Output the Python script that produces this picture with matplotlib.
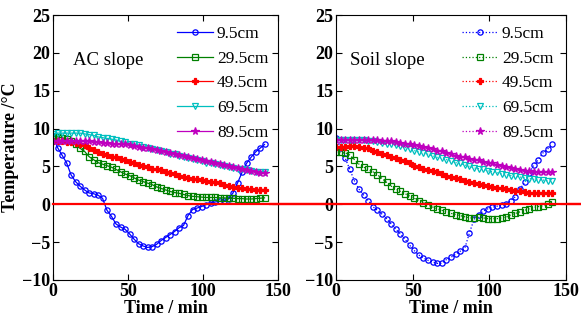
import numpy as np
import matplotlib
matplotlib.use("Agg")
import matplotlib.pyplot as plt

plt.rcParams["font.family"] = ["Liberation Serif", "DejaVu Serif"]

# sampling times (min)
time = np.arange(0, 142, 3)

depths = ["9.5cm", "29.5cm", "49.5cm", "69.5cm", "89.5cm"]

# AC slope temperatures (degC)
ac_95 = [9.0, 7.5, 6.5, 5.5, 3.9, 3.0, 2.4, 1.9, 1.5, 1.4,
         1.2, 0.8, -0.8, -1.6, -2.6, -3.0, -3.3, -3.9, -4.6, -5.2,
         -5.5, -5.7, -5.6, -5.3, -4.8, -4.4, -4.0, -3.6, -3.1, -2.8,
         -1.5, -0.7, -0.5, -0.3, -0.05, 0.2, 0.3, 0.4, 0.45, 0.7,
         1.5, 2.8, 4.2, 5.4, 6.2, 6.9, 7.4, 7.9]
ac_295 = [9.0, 8.9, 8.8, 8.6, 8.3, 7.9, 7.4, 7.0, 6.3, 5.9,
          5.5, 5.3, 5.1, 4.9, 4.6, 4.3, 4.0, 3.8, 3.5, 3.2,
          3.0, 2.8, 2.6, 2.3, 2.1, 1.9, 1.7, 1.55, 1.45, 1.3,
          1.15, 1.05, 1.0, 0.95, 0.9, 0.9, 0.9, 0.85, 0.85, 0.8,
          0.8, 0.75, 0.75, 0.7, 0.7, 0.75, 0.8, 0.85]
ac_495 = [8.3, 8.3, 8.3, 8.2, 8.2, 8.1, 8.0, 7.8, 7.5, 7.2,
          6.9, 6.7, 6.5, 6.3, 6.2, 6.0, 5.8, 5.6, 5.4, 5.2,
          5.0, 4.9, 4.7, 4.6, 4.5, 4.3, 4.1, 4.0, 3.8, 3.6,
          3.5, 3.4, 3.3, 3.2, 3.1, 3.0, 2.9, 2.8, 2.6, 2.4,
          2.3, 2.2, 2.1, 2.0, 2.0, 1.95, 1.95, 1.95]
ac_695 = [9.3, 9.4, 9.4, 9.4, 9.4, 9.4, 9.4, 9.3, 9.2, 9.1,
          8.9, 8.8, 8.7, 8.6, 8.5, 8.3, 8.2, 8.0, 7.9, 7.8,
          7.6, 7.5, 7.3, 7.2, 7.0, 6.9, 6.7, 6.6, 6.4, 6.3,
          6.1, 6.0, 5.8, 5.7, 5.5, 5.4, 5.3, 5.2, 5.0, 4.9,
          4.8, 4.7, 4.6, 4.5, 4.4, 4.3, 4.3, 4.3]
ac_895 = [8.4, 8.4, 8.4, 8.4, 8.4, 8.4, 8.4, 8.3, 8.3, 8.2,
          8.2, 8.1, 8.1, 8.0, 8.0, 7.9, 7.9, 7.8, 7.7, 7.6,
          7.5, 7.4, 7.3, 7.2, 7.1, 6.9, 6.8, 6.7, 6.5, 6.4,
          6.2, 6.1, 6.0, 5.8, 5.7, 5.6, 5.4, 5.3, 5.2, 5.0,
          4.9, 4.8, 4.7, 4.5, 4.4, 4.3, 4.1, 4.1]

# Soil slope temperatures (degC)
soil_95 = [8.8, 7.4, 6.1, 4.6, 3.1, 2.0, 1.2, 0.5, -0.3, -0.8,
           -1.3, -1.9, -2.6, -3.3, -3.9, -4.6, -5.4, -6.1, -6.7, -7.1,
           -7.4, -7.6, -7.8, -7.8, -7.3, -7.0, -6.6, -6.2, -5.8, -3.8,
           -2.0, -1.4, -0.9, -0.6, -0.4, -0.25, -0.1, 0.1, 0.5, 1.0,
           2.0, 2.9, 4.1, 5.2, 5.9, 6.8, 7.3, 7.9]
soil_295 = [6.9, 6.9, 6.8, 6.5, 5.9, 5.3, 4.9, 4.6, 4.3, 3.9,
            3.4, 2.9, 2.4, 2.0, 1.7, 1.4, 1.1, 0.8, 0.5, 0.2,
            -0.1, -0.35, -0.6, -0.8, -1.0, -1.2, -1.35, -1.5, -1.65, -1.8,
            -1.8, -1.7, -1.8, -1.9, -1.9, -1.9, -1.8, -1.7, -1.4, -1.2,
            -1.0, -0.8, -0.6, -0.4, -0.3, -0.2, 0.1, 0.3]
soil_495 = [7.6, 7.6, 7.6, 7.7, 7.7, 7.6, 7.5, 7.4, 7.1, 6.9,
            6.7, 6.5, 6.3, 6.1, 5.9, 5.7, 5.4, 5.1, 4.9, 4.7,
            4.5, 4.4, 4.2, 4.0, 3.8, 3.6, 3.5, 3.3, 3.1, 3.0,
            2.8, 2.7, 2.5, 2.4, 2.3, 2.2, 2.1, 2.0, 1.9, 1.8,
            1.7, 1.6, 1.55, 1.5, 1.5, 1.5, 1.5, 1.5]
soil_695 = [8.5, 8.5, 8.5, 8.5, 8.5, 8.5, 8.5, 8.4, 8.3, 8.2,
            8.1, 8.0, 7.9, 7.8, 7.7, 7.5, 7.3, 7.1, 6.9, 6.8,
            6.6, 6.4, 6.2, 6.1, 5.9, 5.7, 5.5, 5.4, 5.2, 5.0,
            4.8, 4.7, 4.6, 4.4, 4.3, 4.2, 4.0, 3.9, 3.8, 3.7,
            3.6, 3.5, 3.4, 3.3, 3.2, 3.2, 3.1, 3.1]
soil_895 = [8.5, 8.5, 8.5, 8.5, 8.5, 8.5, 8.5, 8.5, 8.5, 8.5,
            8.4, 8.3, 8.3, 8.2, 8.1, 8.0, 7.9, 7.8, 7.7, 7.6,
            7.4, 7.3, 7.1, 7.0, 6.8, 6.6, 6.4, 6.3, 6.2, 6.0,
            5.9, 5.8, 5.6, 5.5, 5.4, 5.2, 5.0, 4.9, 4.8, 4.7,
            4.5, 4.4, 4.4, 4.3, 4.3, 4.2, 4.2, 4.2]

colors = ["#0000ff", "#008000", "#ff0000", "#00bfbf", "#bf00bf"]
markers = ["o", "s", "P", "v", "*"]
filled = [False, False, True, False, True]

fig = plt.figure(figsize=(5.81, 3.28), dpi=100)
ax1 = fig.add_axes([53 / 581, 48 / 328, 225 / 581, 265 / 328])
ax2 = fig.add_axes([336 / 581, 48 / 328, 230 / 581, 265 / 328])


def draw_panel(ax, series, ls, title, title_x, leg_x):
    for vals, lab, c, m, f in zip(series, depths, colors, markers, filled):
        ax.plot(time, vals, linestyle=ls, lw=0.9, color=c, marker=m,
                markersize=3.8 if m != "*" else 5.5,
                markerfacecolor=c if f else "none", markeredgewidth=0.9,
                label=lab)
    ax.set_xlim(0, 150)
    ax.set_ylim(-10, 25)
    ax.set_xticks([0, 50, 100, 150])
    ax.set_yticks(range(-10, 30, 5))
    ax.tick_params(direction="in", top=True, right=True, labelsize=13,
                   length=4, pad=2)
    for lbl in ax.get_xticklabels() + ax.get_yticklabels():
        lbl.set_fontweight("bold")
    ax.set_xlabel("Time / min", fontsize=13, fontweight="bold", labelpad=0)
    ax.text(title_x, 0.83, title, transform=ax.transAxes, fontsize=13.5,
            va="center", ha="left")
    ax.legend(loc="upper left", bbox_to_anchor=(leg_x, 0.96), frameon=False,
              fontsize=12.5, handlelength=2.1, handletextpad=0.2,
              labelspacing=0.5, borderpad=0, borderaxespad=0)


draw_panel(ax1, [ac_95, ac_295, ac_495, ac_695, ac_895], "-", "AC slope",
           0.089, 0.551)
draw_panel(ax2, [soil_95, soil_295, soil_495, soil_695, soil_895], ":",
           "Soil slope", 0.061, 0.548)
ax1.set_ylabel("Temperature /\u00b0C", fontsize=13, fontweight="bold",
               labelpad=2)

# zero reference line running across both panels
ax1.axhline(0, xmin=0, xmax=(580 - 53) / 225, color="red", lw=1.6,
            clip_on=False, zorder=5)
ax2.axhline(0, xmin=-(336 - 270) / 230, xmax=(580 - 336) / 230, color="red",
            lw=1.6, clip_on=False, zorder=5)

fig.savefig("out.png", dpi=100)
